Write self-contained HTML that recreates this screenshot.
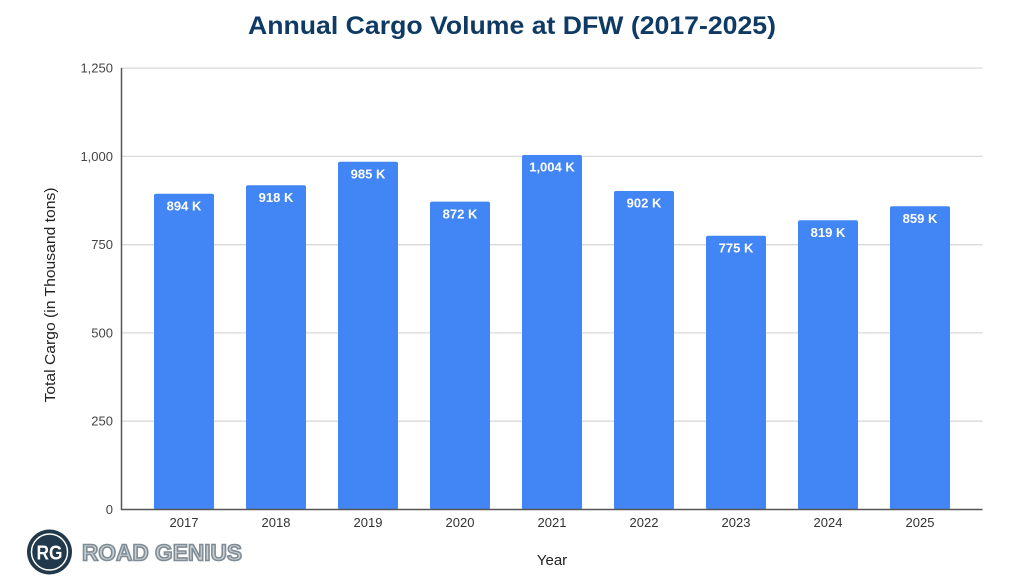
<!DOCTYPE html>
<html><head><meta charset="utf-8"><style>
html,body{margin:0;padding:0;background:#fff;}
svg{display:block;}
</style></head><body>
<svg width="1024" height="582" viewBox="0 0 1024 582" xmlns="http://www.w3.org/2000/svg" font-family="Liberation Sans, Arial, sans-serif">
<rect width="1024" height="582" fill="#fff"/>
<text x="512" y="34" text-anchor="middle" font-size="25" font-weight="bold" fill="#0e3a64" textLength="528" lengthAdjust="spacingAndGlyphs">Annual Cargo Volume at DFW (2017-2025)</text>
<g stroke="#d9d9d9" stroke-width="1.3">
<line x1="121" y1="68.1" x2="982.5" y2="68.1"/>
<line x1="121" y1="156.4" x2="982.5" y2="156.4"/>
<line x1="121" y1="244.7" x2="982.5" y2="244.7"/>
<line x1="121" y1="332.9" x2="982.5" y2="332.9"/>
<line x1="121" y1="421.2" x2="982.5" y2="421.2"/>
</g>
<g font-size="13" fill="#444" text-anchor="end">
<text x="113" y="72.5">1,250</text>
<text x="113" y="160.8">1,000</text>
<text x="113" y="249.1">750</text>
<text x="113" y="337.3">500</text>
<text x="113" y="425.6">250</text>
<text x="113" y="514">0</text>
</g>
<g fill="#4285f4">
<rect x="154" y="193.8" width="60" height="315.7" rx="2"/>
<rect x="246" y="185.3" width="60" height="324.2" rx="2"/>
<rect x="338" y="161.7" width="60" height="347.8" rx="2"/>
<rect x="430" y="201.6" width="60" height="307.9" rx="2"/>
<rect x="522" y="155" width="60" height="354.5" rx="2"/>
<rect x="614" y="191" width="60" height="318.5" rx="2"/>
<rect x="706" y="235.8" width="60" height="273.7" rx="2"/>
<rect x="798" y="220.3" width="60" height="289.2" rx="2"/>
<rect x="890" y="206.2" width="60" height="303.3" rx="2"/>
</g>
<g font-size="13" font-weight="bold" fill="#fff" text-anchor="middle">
<text x="184" y="210.5">894 K</text>
<text x="276" y="202">918 K</text>
<text x="368" y="178.4">985 K</text>
<text x="460" y="218.3">872 K</text>
<text x="552" y="171.7">1,004 K</text>
<text x="644" y="207.7">902 K</text>
<text x="736" y="252.5">775 K</text>
<text x="828" y="237">819 K</text>
<text x="920" y="222.9">859 K</text>
</g>
<line x1="121.5" y1="68" x2="121.5" y2="510" stroke="#555" stroke-width="1.5"/>
<line x1="121" y1="509.5" x2="982.5" y2="509.5" stroke="#555" stroke-width="1.5"/>
<g font-size="13" fill="#333" text-anchor="middle">
<text x="184" y="527">2017</text>
<text x="276" y="527">2018</text>
<text x="368" y="527">2019</text>
<text x="460" y="527">2020</text>
<text x="552" y="527">2021</text>
<text x="644" y="527">2022</text>
<text x="736" y="527">2023</text>
<text x="828" y="527">2024</text>
<text x="920" y="527">2025</text>
</g>
<text x="552" y="565" font-size="15" fill="#222" text-anchor="middle">Year</text>
<text transform="translate(55,295) rotate(-90)" font-size="15" fill="#222" text-anchor="middle" textLength="215" lengthAdjust="spacingAndGlyphs">Total Cargo (in Thousand tons)</text>
<circle cx="49.5" cy="552" r="22.5" fill="#21394a"/>
<circle cx="49.5" cy="552" r="18" fill="none" stroke="#fff" stroke-width="1.5"/>
<text x="49.5" y="559.5" font-size="20" font-weight="bold" fill="#fff" text-anchor="middle" textLength="26" lengthAdjust="spacingAndGlyphs">RG</text>
<text x="82" y="560.5" font-size="23" font-weight="bold" fill="#c8ced2" stroke="#7f8c95" stroke-width="1.6" textLength="160" lengthAdjust="spacingAndGlyphs">ROAD GENIUS</text>
</svg>
</body></html>
